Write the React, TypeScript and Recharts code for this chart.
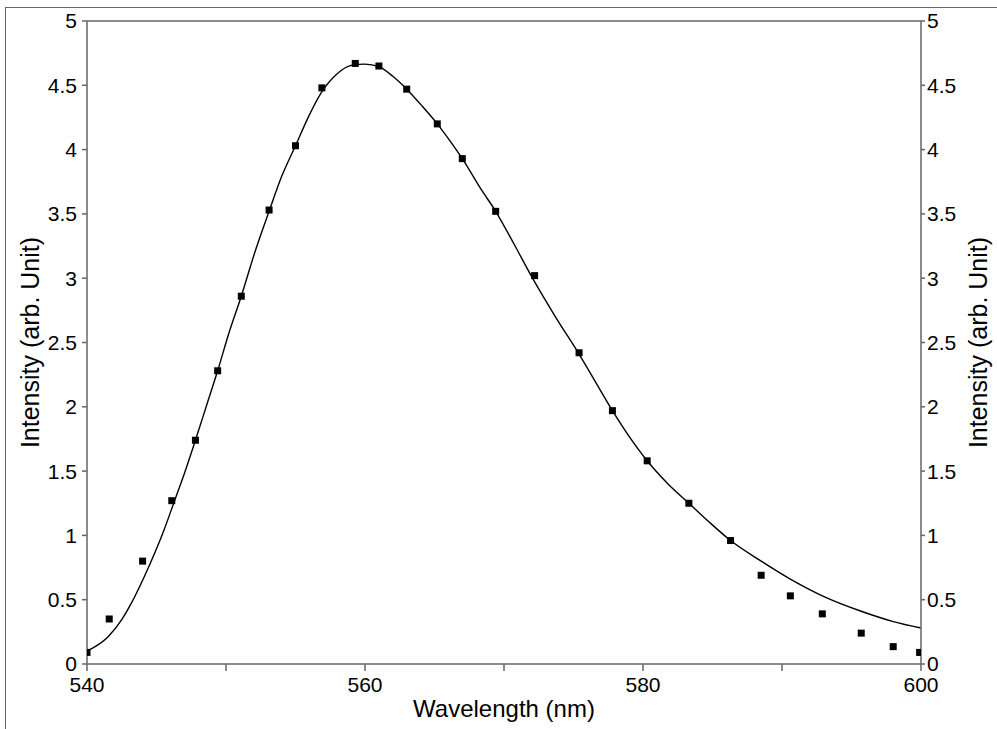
import React from "react";
import {
    ComposedChart,
    Line,
    Scatter,
    XAxis,
    YAxis,
    ReferenceLine,
} from "recharts";

// measured points (squares)
const pointWavelength = [
    540.0, 541.6, 544.0, 546.1, 547.8, 549.4, 551.1, 553.1, 555.0, 556.9,
    559.3, 561.0, 563.0, 565.2, 567.0, 569.4, 572.2, 575.4, 577.8, 580.3,
    583.3, 586.3, 588.5, 590.6, 592.9, 595.7, 598.0, 599.9,
];
const pointIntensity = [
    0.09, 0.35, 0.8, 1.27, 1.74, 2.28, 2.86, 3.53, 4.03, 4.48,
    4.67, 4.65, 4.47, 4.2, 3.93, 3.52, 3.02, 2.42, 1.97, 1.58,
    1.25, 0.96, 0.69, 0.53, 0.39, 0.24, 0.135, 0.09,
];

// fitted curve
const fitWavelength = [
    540, 541.5, 542.5, 543.2, 543.8, 544.5, 545.5, 546.3, 547.0, 547.8,
    548.6, 549.4, 550.2, 551.1, 552.1, 553.1, 554.0, 555.0, 556.0, 556.9,
    558.0, 559.0, 560.0, 561.0, 562.0, 563.0, 564.1, 565.2, 566.1, 567.0,
    568.3, 569.4, 570.7, 572.0, 573.7, 575.4, 576.6, 577.8, 579.0, 580.3,
    581.8, 583.3, 584.8, 586.3, 588.5, 590.6, 592.9, 595.7, 598.0, 600.0,
];
const fitIntensity = [
    0.1, 0.21, 0.345, 0.475, 0.605, 0.77, 1.03, 1.27, 1.48, 1.74,
    2.01, 2.28, 2.57, 2.86, 3.21, 3.52, 3.79, 4.03, 4.27, 4.45,
    4.59, 4.655, 4.665, 4.645, 4.57, 4.47, 4.34, 4.2, 4.07, 3.93,
    3.7, 3.52, 3.27, 3.01, 2.7, 2.41, 2.19, 1.97, 1.77, 1.58,
    1.4, 1.25, 1.1, 0.96, 0.8, 0.66, 0.53, 0.41, 0.33, 0.28,
];

const xTicks = [540, 550, 560, 570, 580, 590, 600];
const yTicks = [0, 0.5, 1, 1.5, 2, 2.5, 3, 3.5, 4, 4.5, 5];

const points = pointWavelength.map((x, i) => ({ x, y: pointIntensity[i] }));
const fit = fitWavelength.map((x, i) => ({ x, y: fitIntensity[i] }));

const AXIS = "#666";
const FONT = '"Liberation Sans", Arial, sans-serif';
const tickStyle = { fill: "#000", fontSize: 21, fontFamily: FONT };

const SquareDot = (props: any) => {
    const { cx, cy } = props;
    if (cx == null || cy == null) return null;
    return <rect x={cx - 3.5} y={cy - 3.5} width={7} height={7} fill="#000" />;
};

const VerticalLabel = (offsetX: number) => (props: any) => {
    const vb = props.viewBox || {};
    const x = vb.x + offsetX;
    const y = vb.y + vb.height / 2;
    return (
        <text
            x={x}
            y={y}
            dy="0.355em"
            textAnchor="middle"
            transform={`rotate(-90, ${x}, ${y})`}
            fill="#000"
            fontSize={25}
            fontFamily={FONT}
        >
            Intensity (arb. Unit)
        </text>
    );
};

export default function App() {
    return (
        <div
            style={{
                position: "absolute",
                left: 0,
                top: 0,
                width: 997,
                height: 729,
                background: "#fff",
                overflow: "hidden",
            }}
        >
            <div
                style={{
                    position: "absolute",
                    left: 5,
                    top: 7,
                    width: 1100,
                    height: 900,
                    borderLeft: `1px solid ${AXIS}`,
                    borderTop: `1px solid ${AXIS}`,
                }}
            />
            <div style={{ position: "absolute", left: 0, top: 0 }}>
                <ComposedChart
                    width={997}
                    height={729}
                    margin={{ top: 21, right: 0, bottom: 0, left: 0 }}
                >
                    <XAxis
                        type="number"
                        dataKey="x"
                        domain={[540, 600]}
                        ticks={xTicks}
                        allowDataOverflow
                        tickFormatter={(v: number) => (v % 20 === 0 ? String(v) : "")}
                        height={65}
                        tickSize={7}
                        tickMargin={6}
                        stroke={AXIS}
                        strokeWidth={1.5}
                        tick={tickStyle}
                        label={{
                            value: "Wavelength (nm)",
                            position: "insideBottom",
                            offset: 12,
                            fill: "#000",
                            fontSize: 24,
                            fontFamily: FONT,
                        }}
                    />
                    <YAxis
                        yAxisId="left"
                        type="number"
                        domain={[0, 5]}
                        ticks={yTicks}
                        allowDataOverflow
                        width={87}
                        tickSize={5}
                        tickMargin={5}
                        stroke={AXIS}
                        strokeWidth={1.5}
                        tick={tickStyle}
                        label={{ content: VerticalLabel(30) }}
                    />
                    <YAxis
                        yAxisId="right"
                        orientation="right"
                        type="number"
                        domain={[0, 5]}
                        ticks={yTicks}
                        allowDataOverflow
                        width={76}
                        tickSize={4}
                        tickMargin={2}
                        stroke={AXIS}
                        strokeWidth={1.5}
                        tick={tickStyle}
                        label={{ content: VerticalLabel(57) }}
                    />
                    <ReferenceLine
                        yAxisId="left"
                        y={5}
                        stroke={AXIS}
                        strokeWidth={1.5}
                    />
                    <Line
                        yAxisId="left"
                        data={fit}
                        dataKey="y"
                        type="monotone"
                        stroke="#000"
                        strokeWidth={1.4}
                        dot={false}
                        activeDot={false}
                        isAnimationActive={false}
                    />
                    <Line
                        yAxisId="right"
                        data={fit}
                        dataKey="y"
                        stroke="none"
                        dot={false}
                        activeDot={false}
                        legendType="none"
                        isAnimationActive={false}
                    />
                    <Scatter
                        yAxisId="left"
                        data={points}
                        dataKey="y"
                        shape={SquareDot}
                        isAnimationActive={false}
                    />
                </ComposedChart>
            </div>
        </div>
    );
}
